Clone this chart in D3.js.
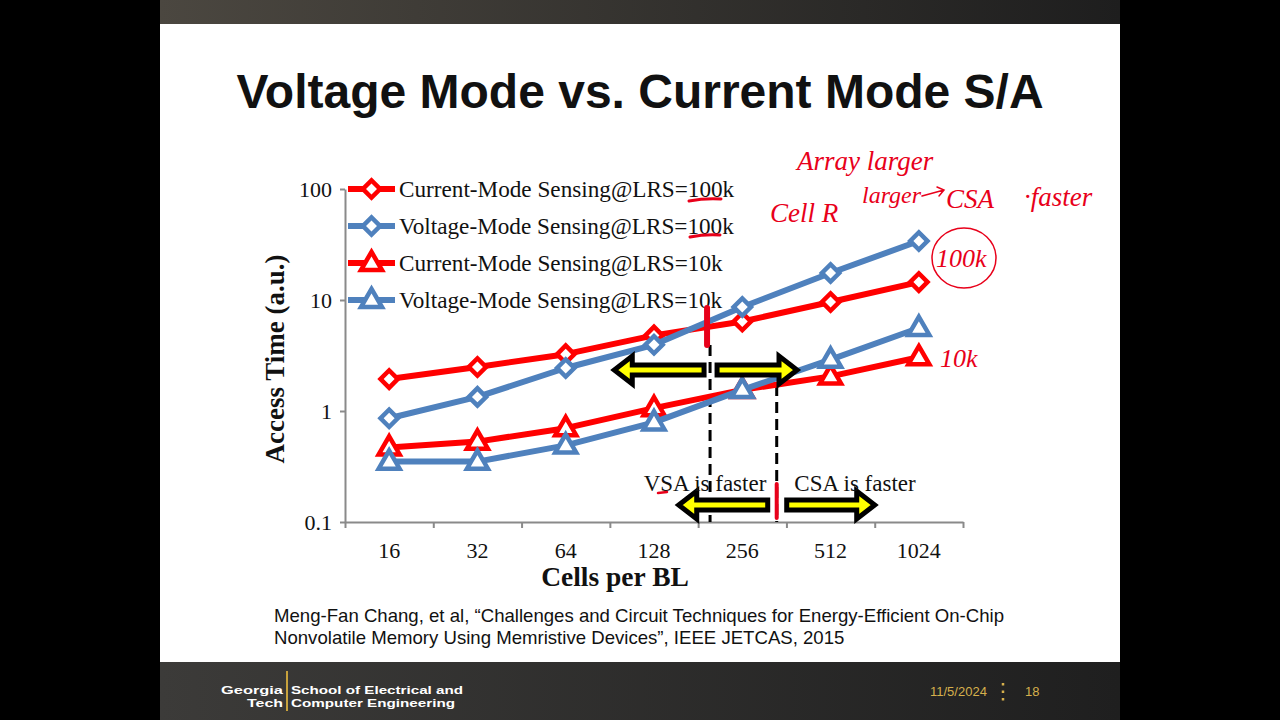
<!DOCTYPE html>
<html>
<head>
<meta charset="utf-8">
<script src="https://cdn.jsdelivr.net/npm/d3@7"></script>
<style>
    html, body { margin: 0; padding: 0; background: #000; }
    svg { display: block; }
    .serif { font-family: "Liberation Serif", "Times New Roman", serif; }
    .sans { font-family: "Liberation Sans", Arial, sans-serif; }
</style>
</head>
<body>
<script>
// chart data
const cells = ['16', '32', '64', '128', '256', '512', '1024'];
const seriesNames = [
    'Current-Mode Sensing@LRS=100k',
    'Voltage-Mode Sensing@LRS=100k',
    'Current-Mode Sensing@LRS=10k',
    'Voltage-Mode Sensing@LRS=10k'
];
const currentMode100k = [1.94, 2.49, 3.25, 4.8, 6.4, 9.6, 14.5];
const voltageMode100k = [0.86, 1.34, 2.44, 3.95, 8.65, 17.5, 34];
const currentMode10k = [0.47, 0.53, 0.70, 1.06, 1.55, 2.05, 3.05];
const voltageMode10k = [0.35, 0.35, 0.49, 0.79, 1.55, 2.9, 5.6];
const yTicks = [0.1, 1, 10, 100];
const seriesColors = ['#ff0000', '#4f81bd', '#ff0000', '#4f81bd'];
const seriesMarkers = ['diamond', 'diamond', 'triangle', 'triangle'];

const slideTitle = 'Voltage Mode vs. Current Mode S/A';
const citation = [
    'Meng-Fan Chang, et al, \u201cChallenges and Circuit Techniques for Energy-Efficient On-Chip',
    'Nonvolatile Memory Using Memristive Devices\u201d, IEEE JETCAS, 2015'
];

const width = 1280,
    height = 720;

const plot = { left: 345, right: 963, top: 189, bottom: 522 };

const svg = d3.select('body')
    .append('svg')
    .attr('width', width)
    .attr('height', height);

const defs = svg.append('defs');

function hGradient(id, from, to) {
    const g = defs.append('linearGradient').attr('id', id);
    g.append('stop').attr('offset', '0%').attr('stop-color', from);
    g.append('stop').attr('offset', '100%').attr('stop-color', to);
}
hGradient('topbar', '#4b4740', '#1e1e1e');
hGradient('footer', '#3c3b39', '#1f1f1f');

// slide frame
svg.append('rect').attr('width', width).attr('height', height).attr('fill', '#000');
svg.append('rect').attr('x', 160).attr('y', 0).attr('width', 960).attr('height', 24).attr('fill', 'url(#topbar)');
svg.append('rect').attr('x', 160).attr('y', 24).attr('width', 960).attr('height', 638).attr('fill', '#fff');
svg.append('rect').attr('x', 160).attr('y', 662).attr('width', 960).attr('height', 58).attr('fill', 'url(#footer)');

svg.append('text')
    .attr('class', 'sans')
    .attr('x', 640)
    .attr('y', 108)
    .attr('text-anchor', 'middle')
    .attr('font-size', 48)
    .attr('font-weight', 'bold')
    .attr('fill', '#111')
    .text(slideTitle);

// scales
const x = d3.scaleBand().domain(cells).range([plot.left, plot.right]);
const xEdge = d3.scaleLinear().domain([0, cells.length]).range([plot.left, plot.right]);
const y = d3.scaleLog().domain([0.1, 100]).range([plot.bottom, plot.top]);
const cx = c => x(c) + x.bandwidth() / 2;
// position a fraction of a step to the right of a category centre
const xAt = (c, f) => cx(c) + f * x.step();

const axisColor = '#8a8a8a';

// x axis: tick marks on the band edges, labels at centres
const xTicks = svg.append('g')
    .attr('transform', `translate(0,${plot.bottom})`)
    .call(d3.axisBottom(xEdge)
        .tickValues(d3.range(0, cells.length + 1))
        .tickFormat('')
        .tickSizeInner(6)
        .tickSizeOuter(0));
xTicks.selectAll('path, line').attr('stroke', axisColor).attr('stroke-width', 2);

const xLabels = svg.append('g')
    .attr('class', 'serif')
    .attr('transform', `translate(0,${plot.bottom})`)
    .call(d3.axisBottom(x).tickSize(0).tickPadding(20));
xLabels.select('.domain').remove();
xLabels.selectAll('text').attr('font-size', 22).attr('fill', '#111').attr('font-family', null);

const yAxis = svg.append('g')
    .attr('class', 'serif')
    .attr('transform', `translate(${plot.left},0)`)
    .call(d3.axisLeft(y)
        .tickValues(yTicks)
        .tickFormat(d => d)
        .tickSizeInner(5)
        .tickSizeOuter(0)
        .tickPadding(8));
yAxis.selectAll('path, line').attr('stroke', axisColor).attr('stroke-width', 2);
yAxis.selectAll('text').attr('font-size', 22).attr('fill', '#111').attr('font-family', null);

svg.append('text')
    .attr('class', 'serif')
    .attr('transform', 'translate(284,359) rotate(-90)')
    .attr('text-anchor', 'middle')
    .attr('font-size', 27)
    .attr('font-weight', 'bold')
    .attr('fill', '#111')
    .text('Access Time (a.u.)');

svg.append('text')
    .attr('class', 'serif')
    .attr('x', (plot.left + plot.right) / 2 - 39)
    .attr('y', 586)
    .attr('text-anchor', 'middle')
    .attr('font-size', 27.5)
    .attr('font-weight', 'bold')
    .attr('fill', '#111')
    .text('Cells per BL');

// series
const series = [currentMode100k, voltageMode100k, currentMode10k, voltageMode10k].map((values, i) => ({
    name: seriesNames[i],
    color: seriesColors[i],
    marker: seriesMarkers[i],
    points: values.map((v, j) => ({ cell: cells[j], value: v }))
}));

const symbolFor = m => m === 'diamond'
    ? d3.symbol(d3.symbolSquare, 150)()
    : d3.symbol(d3.symbolTriangle, 190)();
const markerRotate = m => m === 'diamond' ? ' rotate(45)' : ' translate(0,1)';

const line = d3.line()
    .x(d => cx(d.cell))
    .y(d => y(d.value));

// dashed guides sit under the series
const guides = svg.append('g');
const splitLeft = xAt('128', 0.635);
const splitRight = xAt('256', 0.39);
guides.selectAll('line')
    .data([{ x: splitLeft, y0: 345 }, { x: splitRight, y0: 385 }])
    .enter()
    .append('line')
    .attr('x1', d => d.x)
    .attr('x2', d => d.x)
    .attr('y1', d => d.y0)
    .attr('y2', plot.bottom)
    .attr('stroke', '#000')
    .attr('stroke-width', 3)
    .attr('stroke-dasharray', '11,6');

const seriesG = svg.append('g');
series.forEach(s => {
    const g = seriesG.append('g');
    g.append('path')
        .datum(s.points)
        .attr('d', line)
        .attr('fill', 'none')
        .attr('stroke', s.color)
        .attr('stroke-width', 6)
        .attr('stroke-linejoin', 'round');
    g.selectAll('path.mark')
        .data(s.points)
        .enter()
        .append('path')
        .attr('class', 'mark')
        .attr('d', symbolFor(s.marker))
        .attr('transform', d => `translate(${cx(d.cell)},${y(d.value)})` + markerRotate(s.marker))
        .attr('fill', '#fff')
        .attr('stroke', s.color)
        .attr('stroke-width', 4.5);
});

// block arrows (black outline, yellow fill)
function arrowPath(tail, tip, cy) {
    const dir = tip > tail ? 1 : -1;
    const headLen = 18, shaft = 5, head = 14;
    const base = tip - dir * headLen;
    return `M${tail},${cy - shaft}L${base},${cy - shaft}L${base},${cy - head}L${tip},${cy}` +
        `L${base},${cy + head}L${base},${cy + shaft}L${tail},${cy + shaft}Z`;
}
const arrows = [
    { tail: splitLeft - 6, tip: xAt('128', -0.45), cy: 370 },
    { tail: splitLeft + 7, tip: xAt('256', 0.62), cy: 370 },
    { tail: splitRight - 9, tip: xAt('256', -0.72), cy: 505 },
    { tail: splitRight + 10, tip: xAt('512', 0.5), cy: 505 }
];
svg.append('g')
    .selectAll('path')
    .data(arrows)
    .enter()
    .append('path')
    .attr('d', d => arrowPath(d.tail, d.tip, d.cy))
    .attr('fill', '#ffff00')
    .attr('stroke', '#000')
    .attr('stroke-width', 5)
    .attr('stroke-linejoin', 'miter');

svg.append('g')
    .attr('class', 'serif')
    .selectAll('text')
    .data([{ t: 'VSA is faster', x: 705 }, { t: 'CSA is faster', x: 855 }])
    .enter()
    .append('text')
    .attr('x', d => d.x)
    .attr('y', 491)
    .attr('text-anchor', 'middle')
    .attr('font-size', 23)
    .attr('fill', '#111')
    .text(d => d.t);

// legend
const legend = svg.append('g').attr('class', 'serif');
series.forEach((s, i) => {
    const ly = plot.top + i * 37;
    const row = legend.append('g').attr('transform', `translate(0,${ly})`);
    row.append('line')
        .attr('x1', 348).attr('x2', 395)
        .attr('stroke', s.color).attr('stroke-width', 6);
    row.append('path')
        .attr('d', symbolFor(s.marker))
        .attr('transform', 'translate(371.5,0)' + markerRotate(s.marker))
        .attr('fill', '#fff')
        .attr('stroke', s.color)
        .attr('stroke-width', 4.5);
    row.append('text')
        .attr('x', 399)
        .attr('dy', '0.35em')
        .attr('font-size', 23.2)
        .attr('fill', '#111')
        .text(s.name);
});

// citation
svg.append('g')
    .attr('class', 'sans')
    .selectAll('text')
    .data(citation)
    .enter()
    .append('text')
    .attr('x', 274)
    .attr('y', (d, i) => 622 + i * 22)
    .attr('font-size', 18.6)
    .attr('fill', '#111')
    .text(d => d);

// hand-written notes in red
const ink = '#e8001a';
const notes = svg.append('g')
    .attr('class', 'serif')
    .attr('fill', ink)
    .attr('font-style', 'italic')
    .attr('font-size', 27);
notes.append('text').attr('x', 797).attr('y', 170).text('Array larger');
notes.append('text').attr('x', 770).attr('y', 222).text('Cell R');
notes.append('text').attr('x', 862).attr('y', 203).attr('font-size', 24).text('larger');
notes.append('text').attr('x', 946).attr('y', 208).text('CSA');
notes.append('text').attr('x', 1024).attr('y', 206).text('\u00b7faster');
notes.append('text').attr('x', 936).attr('y', 267).attr('font-size', 26).text('100k');
notes.append('text').attr('x', 940).attr('y', 367).attr('font-size', 26).text('10k');

const strokes = svg.append('g')
    .attr('fill', 'none')
    .attr('stroke', ink)
    .attr('stroke-linecap', 'round');
strokes.append('path').attr('d', 'M922,196L944,190M937,187L944,190L939,196').attr('stroke-width', 1.5);
strokes.append('ellipse').attr('cx', 964).attr('cy', 258).attr('rx', 32).attr('ry', 30).attr('stroke-width', 1.5);
strokes.append('path').attr('d', 'M689,201Q705,198 721,199').attr('stroke-width', 3);
strokes.append('path').attr('d', 'M690,237Q705,234 720,235').attr('stroke-width', 3);
strokes.append('path').attr('d', 'M658,493L667,492').attr('stroke-width', 2.5);
strokes.append('path').attr('d', `M${splitLeft - 3},308L${splitLeft - 3},345`).attr('stroke-width', 6);
strokes.append('path').attr('d', `M${splitRight},484L${splitRight},518`).attr('stroke-width', 4);

// footer
const footer = svg.append('g').attr('class', 'sans').attr('font-weight', 'bold');
const logoLines = [
    { t: 'Georgia', x: 283, y: 694, w: 62, anchor: 'end' },
    { t: 'Tech', x: 283, y: 707, w: 36, anchor: 'end' },
    { t: 'School of Electrical and', x: 291, y: 694, w: 172, anchor: 'start' },
    { t: 'Computer Engineering', x: 291, y: 707, w: 164, anchor: 'start' }
];
footer.selectAll('text.logo')
    .data(logoLines)
    .enter()
    .append('text')
    .attr('class', 'logo')
    .attr('x', d => d.x)
    .attr('y', d => d.y)
    .attr('text-anchor', d => d.anchor)
    .attr('font-size', 11.5)
    .attr('textLength', d => d.w)
    .attr('lengthAdjust', 'spacingAndGlyphs')
    .attr('fill', '#fff')
    .text(d => d.t);
footer.append('line').attr('x1', 287).attr('x2', 287).attr('y1', 671).attr('y2', 711).attr('stroke', '#c8a23c').attr('stroke-width', 2);
footer.append('text').attr('x', 930).attr('y', 696).attr('font-size', 13).attr('font-weight', 'normal').attr('fill', '#d6b04c').text('11/5/2024');
footer.append('line').attr('x1', 1003).attr('x2', 1003).attr('y1', 683).attr('y2', 701)
    .attr('stroke', '#d6b04c').attr('stroke-width', 2.5).attr('stroke-dasharray', '2.5,5');
footer.append('text').attr('x', 1025).attr('y', 696).attr('font-size', 13).attr('font-weight', 'normal').attr('fill', '#d6b04c').text('18');
</script>
</body>
</html>
